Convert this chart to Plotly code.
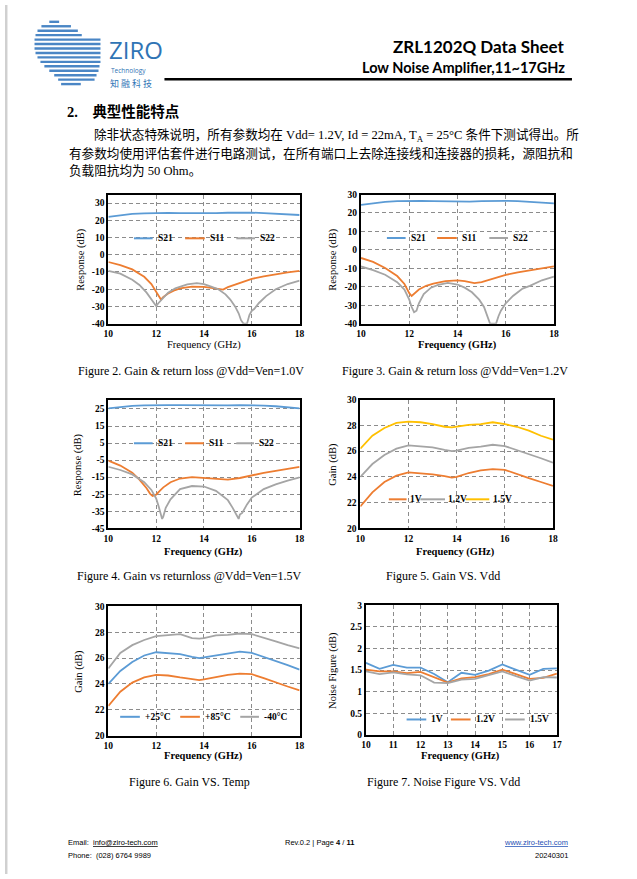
import plotly.graph_objects as go

W, H = 637, 879

# ---------------- data ----------------
# Figure 2 : Gain & return loss @Vdd=Ven=1.0V
f2_s21_x = [10, 10.5, 11, 11.5, 12, 12.5, 13, 13.5, 14, 14.5, 15, 15.5, 16, 16.5, 17, 17.5, 18]
f2_s21_y = [22.0, 23.0, 23.7, 24.1, 24.3, 24.3, 24.2, 24.1, 24.1, 24.2, 24.4, 24.6, 24.5, 24.2, 23.8, 23.4, 23.1]
f2_s11_x = [10, 10.5, 11, 11.5, 11.8, 12, 12.1, 12.2, 12.3, 12.5, 12.8, 13, 13.5, 14, 14.3, 14.6, 14.8, 15, 15.5, 16, 16.5, 17, 17.5, 18]
f2_s11_y = [-4.2, -6.0, -8.5, -12.8, -17.0, -21.5, -24.0, -26.0, -24.5, -22.5, -20.5, -19.5, -18.5, -18.6, -19.2, -19.8, -20.2, -18.8, -16.2, -14.0, -12.5, -11.2, -10.2, -9.3]
f2_s22_x = [10, 10.5, 11, 11.3, 11.6, 11.8, 12, 12.1, 12.3, 12.5, 12.8, 13, 13.3, 13.7, 14, 14.3, 14.6, 14.9, 15.1, 15.3, 15.45, 15.55, 15.65, 15.8, 15.9, 16, 16.1, 16.3, 16.6, 17, 17.5, 18]
f2_s22_y = [-9.4, -11.0, -14.5, -17.5, -22.0, -26.0, -29.8, -28.0, -25.0, -22.0, -19.5, -18.5, -17.2, -16.5, -17.0, -18.5, -20.0, -23.0, -26.0, -30.0, -34.0, -38.0, -40.0, -40.0, -35.0, -32.5, -31.5, -28.0, -24.0, -20.0, -17.0, -15.0]

# Figure 3 : Gain & return loss @Vdd=Ven=1.2V
f3_s21_x = [10, 10.5, 11, 11.5, 12, 12.5, 13, 13.5, 14, 14.5, 15, 15.5, 16, 16.5, 17, 17.5, 18]
f3_s21_y = [24.4, 25.3, 26.0, 26.4, 26.6, 26.6, 26.4, 26.2, 26.1, 26.2, 26.4, 26.6, 26.6, 26.4, 26.0, 25.6, 25.2]
f3_s11_x = [10, 10.5, 11, 11.5, 11.8, 12, 12.1, 12.2, 12.4, 12.7, 13, 13.5, 14, 14.3, 14.7, 15, 15.5, 16, 16.5, 17, 17.5, 18]
f3_s11_y = [-4.4, -6.5, -9.8, -14.2, -18.5, -23.5, -25.0, -24.0, -21.5, -19.5, -18.3, -16.9, -16.6, -17.0, -18.0, -17.5, -15.5, -13.6, -12.2, -11.0, -10.0, -9.0]
f3_s22_x = [10, 10.5, 11, 11.5, 11.8, 12, 12.1, 12.2, 12.3, 12.4, 12.6, 12.9, 13.2, 13.6, 14, 14.3, 14.6, 14.9, 15.1, 15.25, 15.35, 15.45, 15.6, 15.7, 15.8, 16, 16.3, 16.7, 17, 17.5, 18]
f3_s22_y = [-9.0, -11.0, -13.5, -17.5, -21.5, -27.0, -31.0, -33.8, -33.0, -29.0, -24.0, -20.5, -19.0, -17.9, -18.8, -20.5, -23.0, -27.0, -31.0, -36.0, -40.0, -40.0, -40.0, -36.0, -33.0, -29.0, -25.0, -21.0, -19.5, -16.5, -14.5]

# Figure 4 : Gain vs returnloss @Vdd=Ven=1.5V
f4_s21_x = [10, 10.5, 11, 11.5, 12, 12.5, 13, 13.5, 14, 14.5, 15, 15.5, 16, 16.5, 17, 17.5, 18]
f4_s21_y = [25.3, 26.2, 26.8, 27.1, 27.3, 27.3, 27.2, 27.1, 27.0, 27.0, 27.1, 27.2, 27.2, 27.0, 26.6, 26.0, 25.3]
f4_s11_x = [10, 10.5, 11, 11.3, 11.6, 11.75, 11.85, 12.0, 12.15, 12.3, 12.6, 13, 13.5, 14, 14.5, 15, 15.5, 16, 16.5, 17, 17.5, 18]
f4_s11_y = [-5.3, -8.2, -12.4, -16.5, -21.5, -24.8, -26.0, -25.3, -23.0, -21.0, -18.0, -15.8, -15.0, -15.5, -16.0, -16.5, -15.5, -13.8, -12.5, -11.3, -10.0, -9.0]
f4_s22_x = [10, 10.5, 11, 11.5, 11.8, 12, 12.1, 12.2, 12.25, 12.3, 12.4, 12.6, 13, 13.5, 14, 14.5, 15, 15.2, 15.3, 15.4, 15.45, 15.5, 15.6, 15.8, 16, 16.5, 17, 17.5, 18]
f4_s22_y = [-8.9, -10.8, -13.4, -18.0, -22.5, -27.5, -32.0, -37.0, -39.5, -38.0, -33.0, -28.0, -22.0, -20.2, -20.5, -23.0, -28.5, -33.0, -36.0, -38.5, -39.5, -37.0, -36.0, -31.0, -27.0, -22.0, -19.2, -17.0, -15.2]

# Figure 5 : Gain VS. Vdd
f5_x = [10, 10.5, 11, 11.5, 12, 12.5, 13, 13.5, 13.8, 14, 14.5, 15, 15.5, 16, 16.5, 17, 17.5, 18]
f5_1v0 = [21.7, 22.8, 23.6, 24.1, 24.35, 24.3, 24.2, 24.05, 23.95, 24.0, 24.3, 24.5, 24.6, 24.55, 24.2, 23.9, 23.6, 23.3]
f5_1v2 = [24.0, 25.0, 25.7, 26.2, 26.45, 26.35, 26.3, 26.1, 26.0, 26.05, 26.25, 26.35, 26.5, 26.4, 26.1, 25.8, 25.45, 25.1]
f5_1v5 = [26.2, 27.2, 27.8, 28.2, 28.3, 28.25, 28.1, 27.9, 27.85, 27.9, 28.05, 28.1, 28.25, 28.1, 27.9, 27.6, 27.2, 26.9]

# Figure 6 : Gain VS. Temp
f6_x = [10, 10.5, 11, 11.5, 12, 12.5, 13, 13.5, 13.8, 14, 14.5, 15, 15.5, 16, 16.5, 17, 17.5, 18]
f6_p25 = [24.0, 25.0, 25.7, 26.2, 26.45, 26.4, 26.3, 26.1, 26.0, 26.05, 26.2, 26.35, 26.5, 26.4, 26.1, 25.8, 25.45, 25.1]
f6_p85 = [22.3, 23.4, 24.1, 24.5, 24.7, 24.65, 24.5, 24.35, 24.3, 24.35, 24.55, 24.7, 24.8, 24.75, 24.45, 24.1, 23.8, 23.5]
f6_m40 = [25.2, 26.4, 27.0, 27.4, 27.7, 27.8, 27.85, 27.55, 27.5, 27.55, 27.75, 27.8, 27.9, 27.85, 27.6, 27.3, 27.0, 26.75]

# Figure 7 : Noise Figure VS. Vdd
f7_x = [10, 10.5, 11, 11.5, 12, 12.5, 13, 13.5, 14, 14.5, 15, 15.5, 16, 16.5, 17]
f7_1v0 = [1.67, 1.53, 1.62, 1.56, 1.56, 1.41, 1.22, 1.44, 1.39, 1.49, 1.63, 1.51, 1.39, 1.53, 1.54]
f7_1v2 = [1.51, 1.47, 1.47, 1.43, 1.46, 1.33, 1.21, 1.31, 1.34, 1.41, 1.51, 1.41, 1.30, 1.32, 1.42]
f7_1v5 = [1.47, 1.41, 1.45, 1.40, 1.38, 1.21, 1.20, 1.28, 1.30, 1.39, 1.47, 1.36, 1.26, 1.34, 1.33]

BLUE, ORANGE, GRAY, YELLOW = "#5B9BD5", "#ED7D31", "#A5A5A5", "#FFC000"

# ---------------- helpers ----------------
def px(x):
    return x / W


def py(y):
    return 1 - y / H


SERIF = "Liberation Serif, Times New Roman, serif"
CJK = "Liberation Serif, Noto Sans CJK SC, serif"
SANS = "Lato, Open Sans, sans-serif"

panels = [
    dict(box=(105, 299.3, 191.7, 322.3), yr=[-40, 35], yt=[-40, -30, -20, -10, 0, 10, 20, 30],
         xr=[10, 18], xt=[10, 12, 14, 16, 18], ytitle="Response (dB)", xbold=False,
         series=[(f2_s21_x, f2_s21_y, BLUE, "S21"), (f2_s11_x, f2_s11_y, ORANGE, "S11"), (f2_s22_x, f2_s22_y, GRAY, "S22")],
         leg=dict(y=236, items=[(131, 150, 153), (183, 203, 206), (235, 254, 257)]),
         xtitle_pos=(202, 344), ytitle_x=77,
         caption=("Figure 2. Gain & return loss @Vdd=Ven=1.0V", 189, 370)),
    dict(box=(361.7, 557.7, 191.7, 322.3), yr=[-40, 30], yt=[-40, -30, -20, -10, 0, 10, 20, 30],
         xr=[10, 18], xt=[10, 12, 14, 16, 18], ytitle="Response (dB)", xbold=True,
         series=[(f3_s21_x, f3_s21_y, BLUE, "S21"), (f3_s11_x, f3_s11_y, ORANGE, "S11"), (f3_s22_x, f3_s22_y, GRAY, "S22")],
         leg=dict(y=235.7, items=[(388, 407, 410), (439, 459, 462), (492, 511, 514)]),
         xtitle_pos=(460, 344), ytitle_x=333,
         caption=("Figure 3. Gain & return loss @Vdd=Ven=1.2V", 457, 370)),
    dict(box=(105, 299.3, 400, 529.3), yr=[-45, 30], yt=[-45, -35, -25, -15, -5, 5, 15, 25],
         xr=[10, 18], xt=[10, 12, 14, 16, 18], ytitle="Response (dB)", xbold=True,
         series=[(f4_s21_x, f4_s21_y, BLUE, "S21"), (f4_s11_x, f4_s11_y, ORANGE, "S11"), (f4_s22_x, f4_s22_y, GRAY, "S22")],
         leg=dict(y=443.3, items=[(131, 150, 153), (183, 202, 205), (235, 253, 256)]),
         xtitle_pos=(202, 553), ytitle_x=75,
         caption=("Figure 4. Gain vs returnloss @Vdd=Ven=1.5V", 187, 578)),
    dict(box=(361, 556.7, 399.3, 529.3), yr=[20, 30], yt=[20, 22, 24, 26, 28, 30],
         xr=[10, 18], xt=[10, 12, 14, 16, 18], ytitle="Gain (dB)", xbold=True,
         series=[(f5_x, f5_1v0, ORANGE, "1V"), (f5_x, f5_1v2, GRAY, "1.2V"), (f5_x, f5_1v5, YELLOW, "1.5V")],
         leg=dict(y=500, items=[(390, 408, 409), (422, 447, 448), (468, 492, 494)]),
         xtitle_pos=(458, 553), ytitle_x=333,
         caption=("Figure 5. Gain VS. Vdd", 445, 578)),
    dict(box=(105, 299.3, 608.3, 739), yr=[20, 30], yt=[20, 22, 24, 26, 28, 30],
         xr=[10, 18], xt=[10, 12, 14, 16, 18], ytitle="Gain (dB)", xbold=True,
         series=[(f6_x, f6_p25, BLUE, "+25°C"), (f6_x, f6_p85, ORANGE, "+85°C"), (f6_x, f6_m40, GRAY, "-40°C")],
         leg=dict(y=720, items=[(117, 137, 140), (178, 198, 201), (239, 258, 261)]),
         xtitle_pos=(202, 760), ytitle_x=75,
         caption=("Figure 6. Gain VS. Temp", 187, 786)),
    dict(box=(366.7, 560.7, 607.3, 738.3), yr=[0, 3], yt=[0, 0.5, 1, 1.5, 2, 2.5, 3],
         xr=[10, 17], xt=[10, 11, 12, 13, 14, 15, 16, 17], ytitle="Noise Figure (dB)", xbold=True,
         series=[(f7_x, f7_1v0, BLUE, "1V"), (f7_x, f7_1v2, ORANGE, "1.2V"), (f7_x, f7_1v5, GRAY, "1.5V")],
         leg=dict(y=722.7, items=[(408, 428, 431), (453, 473, 476), (508, 528, 531)]),
         xtitle_pos=(463, 760), ytitle_x=333,
         caption=("Figure 7. Noise Figure VS. Vdd", 445, 786)),
]

fig = go.Figure()
layout = dict(width=W, height=H, margin=dict(l=0, r=0, t=0, b=0),
              paper_bgcolor="white", plot_bgcolor="white", showlegend=False)
annotations = []
shapes = []

for i, p in enumerate(panels, start=1):
    xa = "x" if i == 1 else f"x{i}"
    ya = "y" if i == 1 else f"y{i}"
    l, r, t, b = p["box"]
    axis_common = dict(showline=True, mirror=True, linecolor="black", linewidth=2,
                       showgrid=True, gridcolor="#8c8c8c", griddash="4px,3px", gridwidth=0.8,
                       zeroline=False, ticks="", fixedrange=True,
                       tickfont=dict(family=SERIF, size=9.5, color="black", weight="bold"))
    layout["xaxis" if i == 1 else f"xaxis{i}"] = dict(
        domain=[px(l), px(r)], anchor=ya, range=p["xr"], tickmode="array",
        tickvals=p["xt"], ticktext=[str(v) for v in p["xt"]], **axis_common)
    layout["yaxis" if i == 1 else f"yaxis{i}"] = dict(
        domain=[py(b), py(t)], anchor=xa, range=p["yr"], tickmode="array",
        tickvals=p["yt"], ticktext=[f"{v:g}" for v in p["yt"]], **axis_common)
    for (sx, sy, col, name) in p["series"]:
        fig.add_trace(go.Scatter(x=sx, y=sy, mode="lines", name=name, xaxis=xa, yaxis=ya,
                                 line=dict(color=col, width=1.8), hoverinfo="skip"))
    # legend (drawn in-plot like the Excel legend)
    ly = p["leg"]["y"]
    for (x0, x1, tx), (_, _, col, name) in zip(p["leg"]["items"], p["series"]):
        shapes.append(dict(type="line", xref="paper", yref="paper", x0=px(x0), x1=px(x1),
                           y0=py(ly), y1=py(ly), line=dict(color=col, width=2)))
        annotations.append(dict(text=name, x=px(tx), y=py(ly), xref="paper", yref="paper",
                                xanchor="left", yanchor="middle", showarrow=False,
                                font=dict(family=SERIF, size=9.5, color="black", weight="bold")))
    # axis titles
    xtx, xty = p["xtitle_pos"]
    annotations.append(dict(text="Frequency (GHz)", x=px(xtx), y=py(xty), xref="paper", yref="paper",
                            xanchor="center", yanchor="middle", showarrow=False,
                            font=dict(family=SERIF, size=10.5, color="black",
                                      weight="bold" if p["xbold"] else "normal")))
    annotations.append(dict(text=p["ytitle"], x=px(p["ytitle_x"]), y=py((t + b) / 2), xref="paper",
                            yref="paper", xanchor="center", yanchor="middle", textangle=-90,
                            showarrow=False, font=dict(family=SERIF, size=10.5, color="black")))
    cap, cx, cy = p["caption"]
    annotations.append(dict(text=cap, x=px(cx), y=py(cy), xref="paper", yref="paper",
                            xanchor="center", yanchor="middle", showarrow=False,
                            font=dict(family=SERIF, size=12, color="black")))

# ---------------- page decoration: header, text, footer ----------------
# left page edge
shapes.append(dict(type="rect", xref="paper", yref="paper", x0=0, x1=px(2.5), y0=0, y1=1,
                   line=dict(width=0), fillcolor="#d0d0d0"))
# logo stripes
stripes = [(17, 45, 55), (21.5, 37, 67), (26, 33, 74), (30.5, 31, 78), (35, 30, 97), (39.5, 30, 97),
           (44, 30, 97), (48.5, 31, 97), (53, 33, 97), (57.5, 36, 97), (62, 40, 96), (66.5, 45, 95),
           (71, 50, 93), (75.5, 54, 91), (80, 57, 77)]
for (sy, sx0, sx1) in stripes:
    shapes.append(dict(type="line", xref="paper", yref="paper", x0=px(sx0), x1=px(sx1),
                       y0=py(sy), y1=py(sy), line=dict(color="#4A86C5", width=2.4)))
page_text = [
    dict(text="ZIRO", x=px(104), y=py(45), xanchor="left", yanchor="middle",
         font=dict(family="Open Sans, sans-serif", size=24, color="#2F74B5")),
    dict(text="Technology", x=px(106), y=py(66), xanchor="left", yanchor="middle",
         font=dict(family="Open Sans, sans-serif", size=6.5, color="#2F74B5")),
    dict(text="知 融 科 技", x=px(105), y=py(79.5), xanchor="left", yanchor="middle",
         font=dict(family="Noto Sans CJK SC", size=9, color="#2F74B5")),
    dict(text="<b>ZRL1202Q Data Sheet</b>", x=px(571), y=py(42), xanchor="right", yanchor="middle",
         font=dict(family=SANS, size=17, color="black")),
    dict(text="<b>Low Noise Amplifier,11~17GHz</b>", x=px(571), y=py(63), xanchor="right", yanchor="middle",
         font=dict(family=SANS, size=14.5, color="black")),
    dict(text="<b>2.    典型性能特点</b>", x=px(61), y=py(108), xanchor="left", yanchor="middle",
         font=dict(family=CJK, size=14.5, color="black")),
    dict(text="除非状态特殊说明，所有参数均在 Vdd= 1.2V, Id = 22mA, T<sub>A</sub> = 25°C 条件下测试得出。所",
         x=px(88), y=py(132), xanchor="left", yanchor="middle", font=dict(family=CJK, size=12.6, color="black")),
    dict(text="有参数均使用评估套件进行电路测试，在所有端口上去除连接线和连接器的损耗，源阻抗和",
         x=px(63), y=py(150), xanchor="left", yanchor="middle", font=dict(family=CJK, size=12.6, color="black")),
    dict(text="负载阻抗均为 50 Ohm。",
         x=px(63), y=py(167.5), xanchor="left", yanchor="middle", font=dict(family=CJK, size=12.6, color="black")),
    dict(text="Email:  <u>info@ziro-tech.com</u>", x=px(62), y=py(847), xanchor="left", yanchor="middle",
         font=dict(family="Liberation Sans, sans-serif", size=7.5, color="black")),
    dict(text="Phone:  (028) 6764 9989", x=px(62), y=py(860), xanchor="left", yanchor="middle",
         font=dict(family="Liberation Sans, sans-serif", size=7.5, color="black")),
    dict(text="Rev.0.2 | Page <b>4</b> / <b>11</b>", x=px(320), y=py(847), xanchor="center", yanchor="middle",
         font=dict(family="Liberation Sans, sans-serif", size=7.5, color="black")),
    dict(text="<u>www.ziro-tech.com</u>", x=px(574), y=py(847), xanchor="right", yanchor="middle",
         font=dict(family="Liberation Sans, sans-serif", size=7.5, color="#1F4FB4")),
    dict(text="20240301", x=px(574), y=py(860), xanchor="right", yanchor="middle",
         font=dict(family="Liberation Sans, sans-serif", size=7.5, color="black")),
]
for a in page_text:
    a.update(xref="paper", yref="paper", showarrow=False)
annotations += page_text
# header rule
shapes.append(dict(type="line", xref="paper", yref="paper", x0=px(162), x1=px(576), y0=py(75), y1=py(75),
                   line=dict(color="black", width=2.5)))

layout["annotations"] = annotations
layout["shapes"] = shapes
fig.update_layout(**layout)
fig.write_html("out.html", config={"displayModeBar": False},
               post_script="document.body.style.margin='0';document.body.style.overflow='hidden';")
